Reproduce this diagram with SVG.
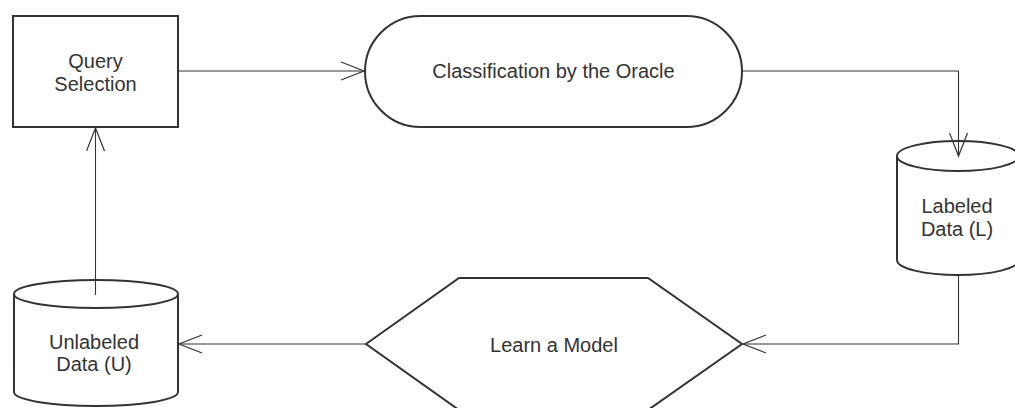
<svg xmlns="http://www.w3.org/2000/svg" width="1015" height="408" viewBox="0 0 1015 408">
  <style>
    .node { fill: #ffffff; stroke: #333333; stroke-width: 2; }
    .edge { fill: none; stroke: #333333; stroke-width: 1.1; }
    .label { font-family: "Liberation Sans", Arial, sans-serif; font-size: 20px; fill: #333333; text-anchor: middle; }
  </style>
  <defs>
    <marker id="open" markerUnits="userSpaceOnUse" viewBox="-24 -10 26 20" refX="0" refY="0" markerWidth="26" markerHeight="20" orient="auto">
      <path d="M -23 -9 L 0 0 L -23 9" fill="none" stroke="#333333" stroke-width="1.2"/>
    </marker>
  </defs>

  <!-- Query Selection -->
  <g id="query-selection">
    <rect class="node" x="13" y="16" width="165" height="111"/>
    <text class="label" x="95.5" y="67.5">Query</text>
    <text class="label" x="95.5" y="90.5">Selection</text>
  </g>

  <!-- Classification by the Oracle -->
  <g id="oracle">
    <rect class="node" x="365" y="16" width="377" height="111" rx="55.5" ry="55.5"/>
    <text class="label" x="553.5" y="77.5">Classification by the Oracle</text>
  </g>

  <!-- Labeled Data (L) -->
  <g id="labeled-data">
    <path class="node" d="M 897 156 A 61 15 0 0 1 1019 156 L 1019 260 A 61 15 0 0 1 897 260 Z"/>
    <path class="node" d="M 897 156 A 61 15 0 0 0 1019 156" fill="none"/>
    <text class="label" x="957" y="213">Labeled</text>
    <text class="label" x="957" y="236">Data (L)</text>
  </g>

  <!-- Learn a Model -->
  <g id="learn-model">
    <polygon class="node" points="366,344 459,278 648,278 742,344 648,410 459,410"/>
    <text class="label" x="554" y="352">Learn a Model</text>
  </g>

  <!-- Unlabeled Data (U) -->
  <g id="unlabeled-data">
    <path class="node" d="M 14 294 A 82 14 0 0 1 178 294 L 178 392 A 82 14 0 0 1 14 392 Z"/>
    <path class="node" d="M 14 294 A 82 14 0 0 0 178 294" fill="none"/>
    <text class="label" x="94" y="349">Unlabeled</text>
    <text class="label" x="94" y="371">Data (U)</text>
  </g>

  <!-- connectors, drawn on top of the shapes -->
  <g id="edges">
    <path class="edge" d="M 178 71 L 364 71" marker-end="url(#open)"/>
    <path class="edge" d="M 742 71 L 958.5 71 L 958.5 156" marker-end="url(#open)"/>
    <path class="edge" d="M 958.5 276 L 958.5 344 L 743 344" marker-end="url(#open)"/>
    <path class="edge" d="M 366 344 L 179 344" marker-end="url(#open)"/>
    <path class="edge" d="M 95.5 295 L 95.5 128" marker-end="url(#open)"/>
  </g>
</svg>
